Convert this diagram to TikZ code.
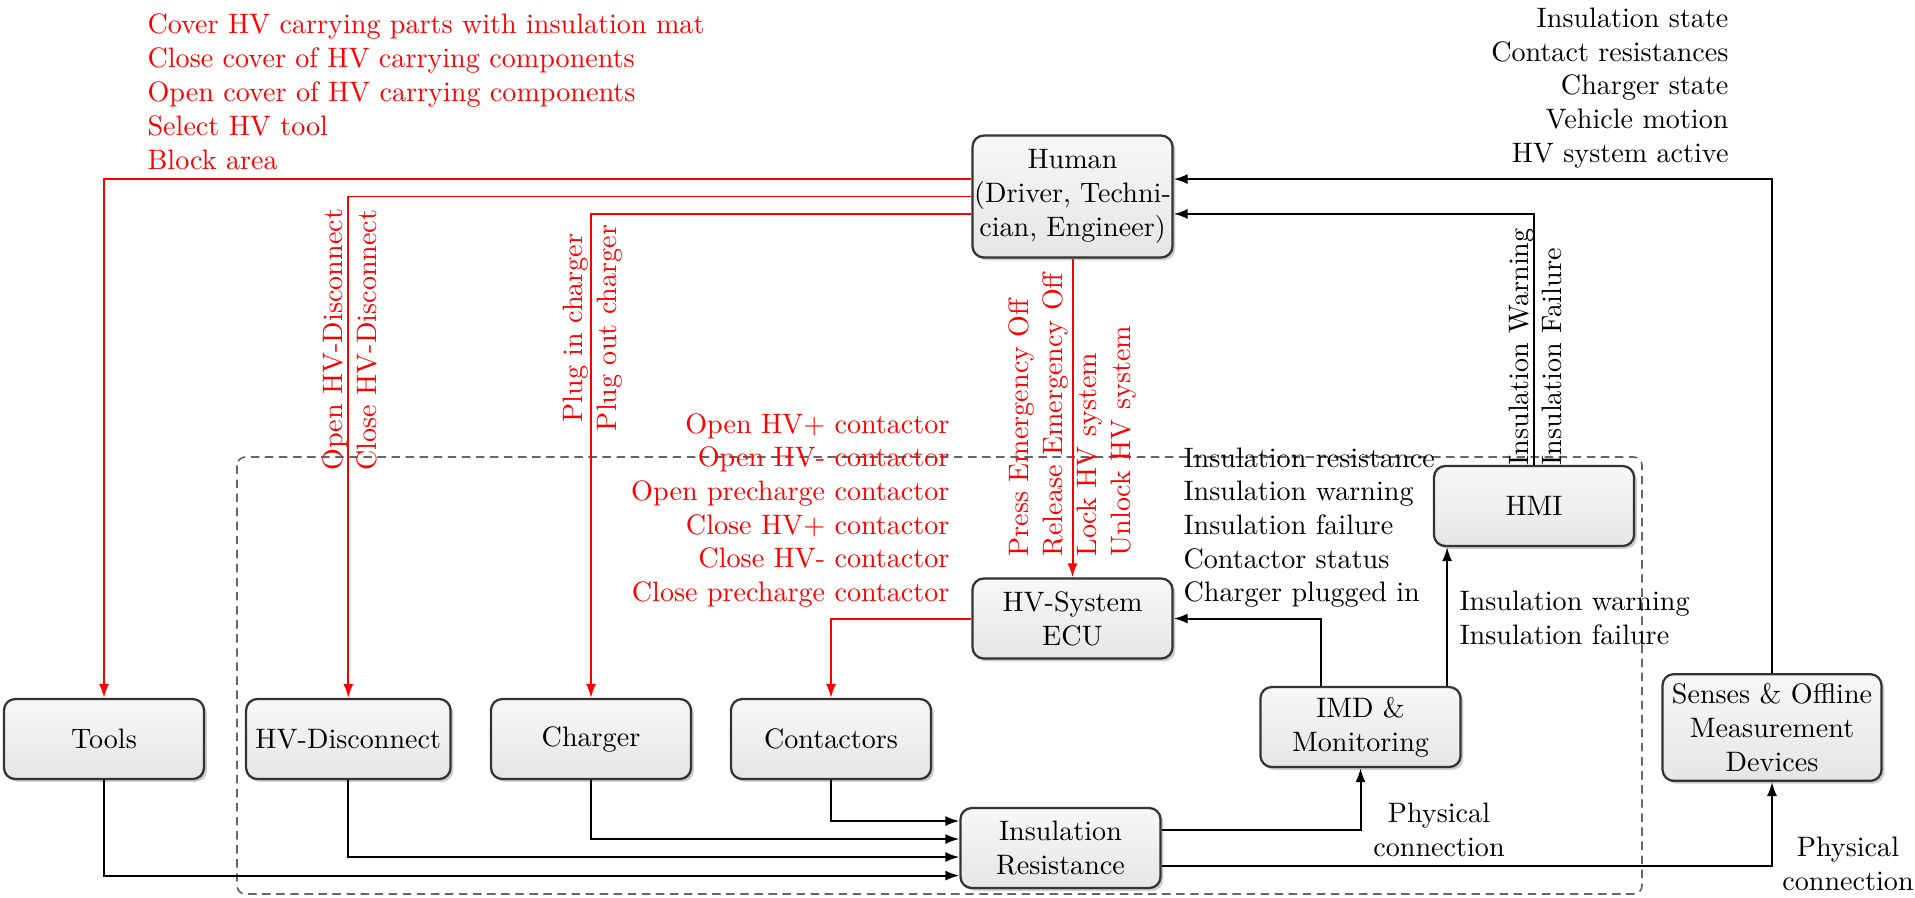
\documentclass[tikz,border=0pt]{standalone}
\usetikzlibrary{arrows.meta,shadows}

\tikzset{
  block/.style={draw=black!80, line width=0.8pt, rounded corners=4pt,
    top color=gray!6, bottom color=gray!20,
    drop shadow={shadow xshift=1pt, shadow yshift=-1pt, opacity=0.4},
    minimum width=2.5cm, minimum height=1cm, align=center, inner sep=3.33pt},
  redflow/.style={draw=red, line width=0.7pt, -{Latex[length=5pt,width=3.6pt]}},
  blkflow/.style={draw=black, line width=0.7pt, -{Latex[length=5pt,width=3.6pt]}},
  cmd/.style={text=red, inner sep=0pt},
  info/.style={text=black, inner sep=0pt},
  boundary/.style={draw=black!60, line width=0.6pt, dash pattern=on 3pt off 2pt, rounded corners=3pt}
}

\begin{document}
\begin{tikzpicture}[x=0.0125cm, y=-0.0125cm]
\useasboundingbox (0,0) rectangle (1915,897);

% system boundary
\draw[boundary] (237,457) rectangle (1642,894);

% blocks
\node[block, inner xsep=0.5pt, inner ysep=5pt] (human) at (1072.5,196.5) {Human\\(Driver, Techni-\\cian, Engineer)};
\node[block] (ecu) at (1072.5,618.5) {HV-System\\ECU};
\node[block] (tools) at (104,739) {Tools};
\node[block] (hvd) at (348.3,739) {HV-Disconnect};
\node[block] (charger) at (591,739) {Charger};
\node[block] (contactors) at (831,739) {Contactors};
\node[block] (ir) at (1060.5,848) {Insulation\\Resistance};
\node[block] (imd) at (1360.5,727) {IMD \&\\Monitoring};
\node[block] (hmi) at (1534,506) {HMI};
\node[block] (senses) at (1772,727.5) {Senses \& Offline\\Measurement\\Devices};

% human actions
\draw[redflow] ([yshift=6.2pt]human.west) -| (tools.north);
\draw[redflow] (human.west) -| (hvd.north);
\draw[redflow] ([yshift=-6.2pt]human.west) -| (charger.north);
\draw[redflow] (human.south) -- (ecu.north);
\draw[redflow] (ecu.west) -| (contactors.north);

% feedback and signals
\draw[blkflow] ([xshift=-14.05pt]imd.north) |- (ecu.east);
\coordinate (imdhmi) at ([xshift=30.8pt]imd.north);
\draw[blkflow] (imdhmi) -- (imdhmi |- hmi.south);
\draw[blkflow] (hmi.north) |- ([yshift=-6.2pt]human.east);
\draw[blkflow] (senses.north) |- ([yshift=6.2pt]human.east);

% physical connections
\draw[blkflow] (contactors.south) |- ([yshift=9.6pt]ir.west);
\draw[blkflow] (charger.south) |- ([yshift=3.2pt]ir.west);
\draw[blkflow] (hvd.south) |- ([yshift=-3.2pt]ir.west);
\draw[blkflow] (tools.south) |- ([yshift=-9.8pt]ir.west);
\draw[blkflow] ([yshift=6.4pt]ir.east) -| (imd.south);
\draw[blkflow] ([yshift=-6.4pt]ir.east) -| (senses.south);

\node[align=center, inner sep=0pt] (phys1) at (1439,830) {Physical\\connection};
\node[align=center, inner sep=0pt] (phys2) at (1848,864) {Physical\\connection};

% action lists
\foreach \t [count=\i] in {Cover HV carrying parts with insulation mat,
    Close cover of HV carrying components,
    Open cover of HV carrying components,
    Select HV tool, Block area}
  \node[cmd, anchor=base west] (toolcmd\i) at (147,{33+34*(\i-1)}) {\t};

\foreach \t [count=\i] in {Insulation state, Contact resistances,
    Charger state, Vehicle motion, HV system active}
  \node[info, anchor=base east] (sense\i) at (1729,{27.5+33.73*(\i-1)}) {\t};

\foreach \t [count=\i] in {Open HV+ contactor, Open HV- contactor,
    Open precharge contactor, Close HV+ contactor,
    Close HV- contactor, Close precharge contactor}
  \node[cmd, anchor=base east] (ctcmd\i) at (950,{433+33.73*(\i-1)}) {\t};

\foreach \t [count=\i] in {Insulation resistance, Insulation warning,
    Insulation failure, Contactor status, Charger plugged in}
  \node[info, anchor=base west] (ecuin\i) at (1183,{467+33.73*(\i-1)}) {\t};

\node[info, anchor=base west] (hmiin1) at (1459,610.5) {Insulation warning};
\node[info, anchor=base west] (hmiin2) at (1459,644) {Insulation failure};

% labels along vertical connectors
\node[cmd, rotate=90, anchor=base west] (hvdcmd1) at (342,471) {Open HV-Disconnect};
\node[cmd, rotate=90, anchor=base west] (hvdcmd2) at (376,471) {Close HV-Disconnect};
\node[cmd, rotate=90, anchor=base] (chgcmd1) at (582,328) {Plug in charger};
\node[cmd, rotate=90, anchor=base] (chgcmd2) at (616,328) {Plug out charger};
\node[cmd, rotate=90, anchor=base west] (ecucmd1) at (1028,557) {Press Emergency Off};
\node[cmd, rotate=90, anchor=base west] (ecucmd2) at (1062,557) {Release Emergency Off};
\node[cmd, rotate=90, anchor=base west] (ecucmd3) at (1096,557) {Lock HV system};
\node[cmd, rotate=90, anchor=base west] (ecucmd4) at (1130,557) {Unlock HV system};
\node[info, rotate=90, anchor=base west] (hmiout1) at (1528,466) {Insulation Warning};
\node[info, rotate=90, anchor=base west] (hmiout2) at (1561,466) {Insulation Failure};
\end{tikzpicture}
\end{document}
